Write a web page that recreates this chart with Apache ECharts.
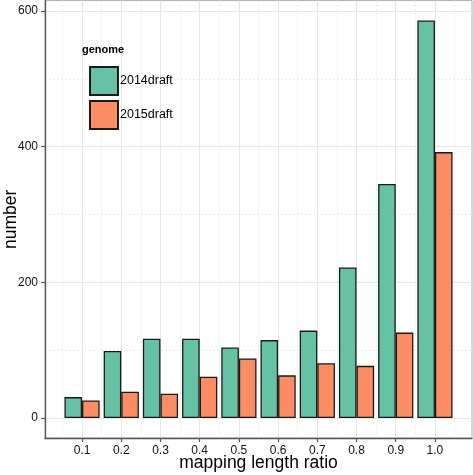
<!DOCTYPE html>
<html>
<head>
<meta charset="utf-8">
<script src="https://cdn.jsdelivr.net/npm/echarts@6/dist/echarts.min.js"></script>
<style>
html,body{margin:0;padding:0;background:#fff;}
#c{width:473px;height:475px;}
</style>
</head>
<body>
<div id="c"></div>
<script>
const categories = [0.1, 0.2, 0.3, 0.4, 0.5, 0.6, 0.7, 0.8, 0.9, 1.0];
const draft2014 = [31, 99, 117, 117, 104, 115, 129, 222, 345, 586];
const draft2015 = [26, 39, 36, 61, 88, 63, 81, 77, 126, 392];
const yTicks = [0, 200, 400, 600];
const yMinor = [100, 300, 500];
const xMinor = [0.05, 0.15, 0.25, 0.35, 0.45, 0.55, 0.65, 0.75, 0.85, 0.95, 1.05];
const seriesNames = ['2014draft', '2015draft'];

const font = 'Liberation Sans, Arial, Helvetica, sans-serif';
const xMin = 0.0055, xMax = 1.0945, yMin = -29.3, yMax = 615.3;

const chart = echarts.init(document.getElementById('c'), null, {renderer: 'canvas'});
chart.setOption({
  animation: false,
  backgroundColor: '#ffffff',
  textStyle: {fontFamily: font},
  title: {
    text: 'genome', left: 82, top: 44, padding: 0,
    textStyle: {fontFamily: font, fontSize: 11, fontWeight: 'bold', color: '#000'}
  },
  legend: {
    data: seriesNames, orient: 'vertical', left: 89, top: 66, padding: 0,
    itemWidth: 28, itemHeight: 28, itemGap: 4, icon: 'rect',
    textStyle: {fontFamily: font, fontSize: 12.5, color: '#000', padding: [0,0,0,-3]}
  },
  grid: {left: 45, top: 0.6, width: 427, height: 437.4, show: true, borderColor: '#b0b0b0', borderWidth: 1, containLabel: false, outerBoundsMode: 'none'},
  xAxis: [{
    type: 'value', min: xMin, max: xMax,
    name: 'mapping length ratio', nameLocation: 'middle', nameGap: 16, nameMoveOverlap: false,
    nameTextStyle: {fontFamily: font, fontSize: 17.5, color: '#000', verticalAlign: 'top'},
    axisLine: {show: true, onZero: false, lineStyle: {color: '#555', width: 1.3}},
    axisTick: {show: true, length: 4, customValues: categories, lineStyle: {color: '#555', width: 1.2}},
    axisLabel: {customValues: categories, formatter: v => v.toFixed(1), fontSize: 12, color: '#111', margin: 7, fontFamily: font},
    splitLine: {show: true, lineStyle: {color: '#e6e6e6', width: 1}}
  }, {
    type: 'value', min: xMin, max: xMax, position: 'bottom',
    axisLine: {show: false}, axisLabel: {show: false},
    axisTick: {show: false, customValues: xMinor},
    splitLine: {show: true, lineStyle: {color: '#ececec', width: 1, type: [2, 2]}}
  }],
  yAxis: [{
    type: 'value', min: yMin, max: yMax,
    name: 'number', nameLocation: 'middle', nameGap: 25, nameRotate: 90, nameMoveOverlap: false,
    nameTextStyle: {fontFamily: font, fontSize: 17.5, color: '#000'},
    axisLine: {show: true, onZero: false, lineStyle: {color: '#555', width: 1.3}},
    axisTick: {show: true, length: 4, customValues: yTicks, lineStyle: {color: '#555', width: 1.2}},
    axisLabel: {customValues: yTicks, fontSize: 12, color: '#111', margin: 7, fontFamily: font},
    splitLine: {show: true, lineStyle: {color: '#e6e6e6', width: 1}}
  }, {
    type: 'value', min: yMin, max: yMax, position: 'left',
    axisLine: {show: false}, axisLabel: {show: false},
    axisTick: {show: false, customValues: yMinor},
    splitLine: {show: true, lineStyle: {color: '#ececec', width: 1, type: [2, 2]}}
  }],
  series: [{
    name: seriesNames[0], type: 'bar', xAxisIndex: 0, yAxisIndex: 0,
    barWidth: 17.6, barGap: '0%',
    itemStyle: {color: '#66C2A5', borderColor: '#1a1a1a', borderWidth: 1.3},
    data: categories.map((c, i) => [c, draft2014[i]])
  }, {
    name: seriesNames[1], type: 'bar', xAxisIndex: 0, yAxisIndex: 0,
    barWidth: 17.6, barGap: '0%',
    itemStyle: {color: '#FC8D62', borderColor: '#1a1a1a', borderWidth: 1.3},
    data: categories.map((c, i) => [c, draft2015[i]])
  }]
});
</script>
</body>
</html>
